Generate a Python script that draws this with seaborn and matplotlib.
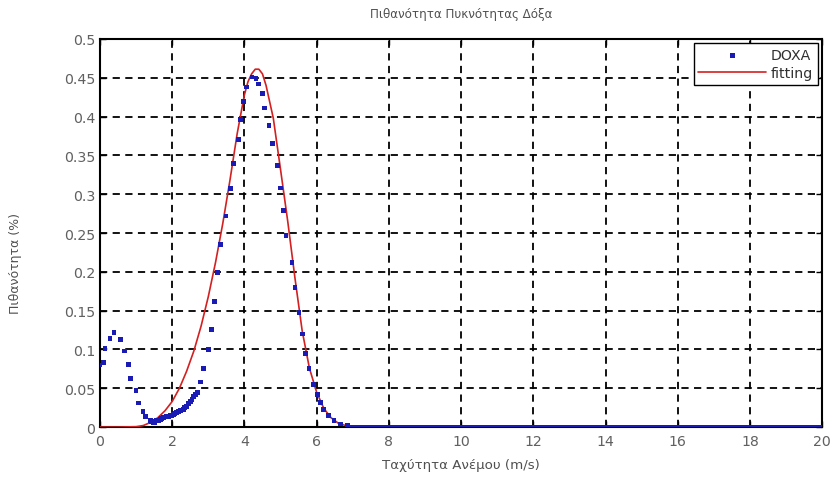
import numpy as np
import pandas as pd
import matplotlib
matplotlib.use("Agg")
import matplotlib.pyplot as plt
from matplotlib.ticker import FuncFormatter
import seaborn as sns

title = "Πιθανότητα Πυκνότητας Δόξα"
xlabel = "Ταχύτητα Ανέμου (m/s)"
ylabel = "Πιθανότητα (%)"
x_ticks = [0, 2, 4, 6, 8, 10, 12, 14, 16, 18, 20]
y_ticks = [0, 0.05, 0.1, 0.15, 0.2, 0.25, 0.3, 0.35, 0.4, 0.45, 0.5]

# DOXA measured points (non-zero part)
doxa_x = [0.0, 0.09, 0.14, 0.28, 0.39, 0.57, 0.69, 0.79, 0.85, 1.0, 1.06, 1.19, 1.25,
          1.39, 1.43, 1.48, 1.52, 1.57, 1.62, 1.67, 1.71, 1.76, 1.80, 1.85, 1.90, 1.94,
          1.98, 2.03, 2.08, 2.13, 2.17, 2.22, 2.27, 2.31, 2.35, 2.40, 2.45, 2.50, 2.55,
          2.60, 2.65, 2.69, 2.78, 2.87, 3.01, 3.10, 3.18, 3.26, 3.33, 3.49, 3.61, 3.70,
          3.84, 3.89, 3.98, 4.05, 4.21, 4.32, 4.40, 4.49, 4.55, 4.68, 4.77, 4.91, 5.00,
          5.09, 5.15, 5.32, 5.40, 5.51, 5.60, 5.69, 5.79, 5.92, 6.02, 6.11, 6.20, 6.34,
          6.48, 6.67, 6.85]
doxa_y = [0.080, 0.083, 0.101, 0.114, 0.122, 0.113, 0.098, 0.081, 0.063, 0.047, 0.031, 0.020, 0.014,
          0.008, 0.007, 0.006, 0.006, 0.008, 0.009, 0.010, 0.011, 0.0125, 0.013, 0.014, 0.014, 0.0146,
          0.015, 0.016, 0.018, 0.019, 0.020, 0.021, 0.022, 0.023, 0.025, 0.027, 0.030, 0.033, 0.036,
          0.039, 0.042, 0.045, 0.058, 0.075, 0.100, 0.126, 0.162, 0.199, 0.235, 0.272, 0.307, 0.340,
          0.370, 0.396, 0.419, 0.438, 0.451, 0.449, 0.442, 0.430, 0.411, 0.388, 0.365, 0.337, 0.308,
          0.279, 0.247, 0.212, 0.180, 0.148, 0.120, 0.095, 0.075, 0.055, 0.042, 0.032, 0.023, 0.015,
          0.008, 0.004, 0.002]
# DOXA zero-valued tail: sample grid 7..20 m/s, every value read as 0
doxa_tail_x = np.round(np.arange(7.0, 20.001, 0.1), 1)
doxa_tail_y = np.zeros(len(doxa_tail_x))

# fitted curve
fit_x = [0.0, 0.5, 1.0, 1.2, 1.4, 1.6, 1.8, 2.0, 2.2, 2.4, 2.6, 2.8, 3.0, 3.2, 3.4, 3.6,
         3.8, 4.0, 4.1, 4.2, 4.3, 4.4, 4.5, 4.6, 4.8, 5.0, 5.2, 5.4, 5.6, 5.8, 6.0, 6.2,
         6.4, 6.6, 6.8, 7.0, 8.0, 20.0]
fit_y = [0.0, 0.0, 0.0005, 0.002, 0.006, 0.012, 0.021, 0.033, 0.050, 0.072, 0.098, 0.130,
         0.168, 0.212, 0.262, 0.318, 0.378, 0.428, 0.445, 0.455, 0.461, 0.461, 0.455, 0.440,
         0.398, 0.332, 0.265, 0.192, 0.124, 0.076, 0.045, 0.024, 0.012, 0.005, 0.002, 0.0008,
         0.0, 0.0]

doxa = pd.DataFrame({"x": list(doxa_x) + list(doxa_tail_x),
                     "y": list(doxa_y) + list(doxa_tail_y)})
fit = pd.DataFrame({"x": fit_x, "y": fit_y})

sns.set_theme(style="white")
plt.rcParams['font.family'] = ['DejaVu Sans']

fig = plt.figure(figsize=(8.33, 4.81), dpi=100)
ax = fig.add_axes([0.12, 0.110, 0.867, 0.807])

sns.lineplot(data=fit, x="x", y="y", ax=ax, color="#d42020", linewidth=1.2,
             label="fitting", zorder=3, sort=False)
sns.scatterplot(data=doxa, x="x", y="y", ax=ax, color="#1a1ab4", marker="s", s=12,
                edgecolor="none", label="DOXA", zorder=4)

ax.set_xlim(0, 20)
ax.set_ylim(0, 0.5)
ax.set_xticks(x_ticks)
ax.set_yticks(y_ticks)
ax.xaxis.set_major_formatter(FuncFormatter(lambda v, p: "%g" % v))
ax.yaxis.set_major_formatter(FuncFormatter(lambda v, p: "%g" % v))
ax.grid(True, color="black", linestyle=(0, (4, 3)), linewidth=1.3)
ax.set_axisbelow(True)
for s in ax.spines.values():
    s.set_visible(True)
    s.set_color("black")
    s.set_linewidth(1.5)
ax.tick_params(direction="in", length=4, width=1, colors="black", labelcolor="#606060",
               labelsize=10.2, top=True, right=True, bottom=True, left=True)
ax.tick_params(axis="x", pad=5)

ax.set_title(title, fontsize=8.6, color="#505050", pad=16)
ax.set_xlabel(xlabel, fontsize=9.6, color="#505050", labelpad=7)
ax.set_ylabel(ylabel, fontsize=9, color="#505050")
ax.yaxis.set_label_coords(-0.108, 0.425)

h, l = ax.get_legend_handles_labels()
order = [l.index("DOXA"), l.index("fitting")]
leg = ax.legend([h[i] for i in order], [l[i] for i in order], loc="upper right",
                fontsize=10.2, frameon=True, fancybox=False, framealpha=1,
                edgecolor="black", borderaxespad=0.3, handlelength=4.8,
                handletextpad=0.3, markerscale=1.2, borderpad=0.35, labelspacing=0.25)
leg.get_frame().set_linewidth(1.0)
for t in leg.get_texts():
    t.set_color("#303030")

fig.savefig("out.png", dpi=100)
